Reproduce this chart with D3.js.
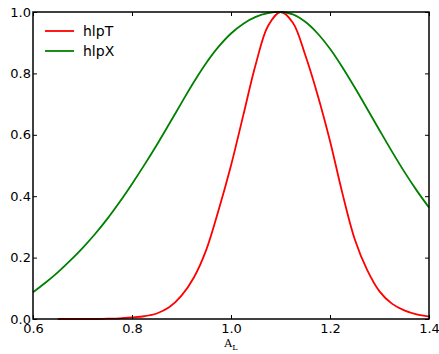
<!DOCTYPE html>
<html>
<head>
<meta charset="utf-8">
<script src="https://cdn.jsdelivr.net/npm/d3@7"></script>
<style>
  body { margin: 0; background: #fff; }
  .tick-label { font-family: 'DejaVu Sans', sans-serif; font-size: 13px; fill: #000; }
  .legend-label { font-family: 'DejaVu Sans', sans-serif; font-size: 14px; fill: #000; }
  .axis-title { font-family: 'DejaVu Serif', serif; font-size: 11px; fill: #000; }
</style>
</head>
<body>
<svg id="chart"></svg>
<script>
// values
const xDomain = [0.6, 1.4];
const yDomain = [0, 1];
const xTicks = [0.6, 0.8, 1.0, 1.2, 1.4];
const yTicks = [0.0, 0.2, 0.4, 0.6, 0.8, 1.0];

const hlpTx = [0.65, 0.675, 0.7, 0.725, 0.75, 0.775, 0.8, 0.825, 0.85, 0.875, 0.9, 0.925, 0.95,
  0.975, 1.0, 1.025, 1.05, 1.075, 1.1, 1.125, 1.15, 1.175, 1.2, 1.225, 1.25, 1.275, 1.3,
  1.325, 1.35, 1.375, 1.4];
const hlpTy = [0.0, 0.0, 0.0, 0.0, 0.001, 0.002, 0.005, 0.009, 0.018, 0.038, 0.076, 0.135, 0.225,
  0.355, 0.5, 0.665, 0.83, 0.955, 1.0, 0.965, 0.86, 0.73, 0.58, 0.41, 0.26, 0.16, 0.09,
  0.05, 0.028, 0.015, 0.008];

const hlpXx = [0.6, 0.625, 0.65, 0.675, 0.7, 0.725, 0.75, 0.775, 0.8, 0.825, 0.85, 0.875, 0.9,
  0.925, 0.95, 0.975, 1.0, 1.025, 1.05, 1.075, 1.1, 1.125, 1.15, 1.175, 1.2, 1.225, 1.25,
  1.275, 1.3, 1.325, 1.35, 1.375, 1.4];
const hlpXy = [0.087, 0.118, 0.152, 0.19, 0.231, 0.276, 0.326, 0.381, 0.44, 0.502, 0.567, 0.635, 0.704,
  0.772, 0.834, 0.887, 0.93, 0.962, 0.984, 0.996, 1.0, 0.992, 0.968, 0.93, 0.88, 0.82, 0.754,
  0.685, 0.615, 0.546, 0.48, 0.419, 0.363];

const seriesNames = ['hlpT', 'hlpX'];
const seriesColors = ['#ff0000', '#008000'];

class LineChart {
  constructor(_config) {
    this.config = {
      parentElement: _config.parentElement,
      margin: _config.margin,
      width: _config.width - _config.margin.left - _config.margin.right,
      height: _config.height - _config.margin.top - _config.margin.bottom,
      containerWidth: _config.width,
      containerHeight: _config.height,
    };
    this.series = [
      { name: seriesNames[0], color: seriesColors[0], points: hlpTx.map((x, i) => [x, hlpTy[i]]) },
      { name: seriesNames[1], color: seriesColors[1], points: hlpXx.map((x, i) => [x, hlpXy[i]]) },
    ];
    this.initVis();
  }

  initVis() {
    const vis = this;
    const { width, height, margin } = vis.config;

    vis.svg = d3.select(vis.config.parentElement)
      .attr('width', vis.config.containerWidth)
      .attr('height', vis.config.containerHeight);

    vis.chart = vis.svg.append('g')
      .attr('transform', `translate(${margin.left},${margin.top})`);

    vis.xScale = d3.scaleLinear().domain(xDomain).range([0, width]);
    vis.yScale = d3.scaleLinear().domain(yDomain).range([height, 0]);

    vis.renderVis();
  }

  renderVis() {
    const vis = this;
    const { width, height } = vis.config;
    const tickLen = 4;

    // lines first, frame drawn over them
    const line = d3.line()
      .curve(d3.curveCatmullRom.alpha(0.5))
      .x((d) => vis.xScale(d[0]))
      .y((d) => vis.yScale(d[1]));

    vis.chart.selectAll('.series')
      .data(vis.series)
      .join('path')
      .attr('class', 'series')
      .attr('d', (d) => line(d.points))
      .attr('fill', 'none')
      .attr('stroke', (d) => d.color)
      .attr('stroke-width', 1.8);

    // ticks pointing inward on all four sides (matplotlib classic look)
    const fmt = d3.format('.1f');
    vis.chart.append('g')
      .attr('transform', `translate(0,${height})`)
      .call(d3.axisBottom(vis.xScale).tickValues(xTicks).tickSize(-tickLen).tickPadding(5).tickFormat(fmt))
      .call((g) => g.select('.domain').remove());
    vis.chart.append('g')
      .call(d3.axisTop(vis.xScale).tickValues(xTicks).tickSize(-tickLen).tickFormat(''))
      .call((g) => g.select('.domain').remove());
    vis.chart.append('g')
      .call(d3.axisLeft(vis.yScale).tickValues(yTicks).tickSize(-tickLen).tickPadding(2).tickFormat(fmt))
      .call((g) => g.select('.domain').remove());
    vis.chart.append('g')
      .attr('transform', `translate(${width},0)`)
      .call(d3.axisRight(vis.yScale).tickValues(yTicks).tickSize(-tickLen).tickFormat(''))
      .call((g) => g.select('.domain').remove());

    vis.chart.selectAll('.tick line').attr('stroke', '#000').attr('stroke-width', 1);
    vis.chart.selectAll('.tick text')
      .attr('class', 'tick-label')
      .attr('font-family', null)
      .attr('font-size', null);

    vis.chart.append('rect')
      .attr('width', width)
      .attr('height', height)
      .attr('fill', 'none')
      .attr('stroke', '#000')
      .attr('stroke-width', 1.5);

    // x-axis title: A with subscript L
    const title = vis.chart.append('text')
      .attr('class', 'axis-title')
      .attr('x', width / 2)
      .attr('y', height + 28)
      .attr('text-anchor', 'middle');
    title.append('tspan').text('A');
    title.append('tspan').attr('font-size', '8px').attr('dy', 3).text('L');

    // legend, no frame
    const legend = vis.chart.selectAll('.legend-item')
      .data(vis.series)
      .join('g')
      .attr('class', 'legend-item')
      .attr('transform', (d, i) => `translate(12,${19 + i * 20})`);
    legend.append('line')
      .attr('x1', 0)
      .attr('x2', 29)
      .attr('stroke', (d) => d.color)
      .attr('stroke-width', 1.8);
    legend.append('text')
      .attr('class', 'legend-label')
      .attr('x', 38)
      .attr('dy', '0.35em')
      .text((d) => d.name);
  }
}

new LineChart({
  parentElement: '#chart',
  width: 439,
  height: 354,
  margin: {
    top: 12, right: 10, bottom: 35, left: 33,
  },
});
</script>
</body>
</html>
